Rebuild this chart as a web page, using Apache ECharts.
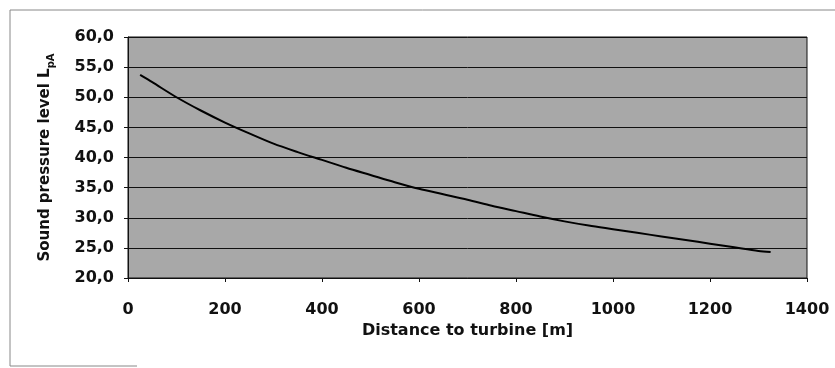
<!DOCTYPE html>
<html>
<head>
<meta charset="utf-8">
<script src="https://cdn.jsdelivr.net/npm/echarts@6/dist/echarts.min.js"></script>
<style>
html,body{margin:0;padding:0;background:#fff;}
#chart{width:835px;height:368px;}
</style>
</head>
<body>
<div id="chart"></div>
<script>
// Distance to turbine [m]
const distance = [25, 50, 100, 150, 200, 250, 300, 350, 400, 450, 500, 550, 600, 650, 700, 750, 800, 850, 900, 950, 1000, 1050, 1100, 1150, 1200, 1250, 1300, 1325];
// Sound pressure level LpA
const spl = [53.7, 52.5, 50.0, 47.8, 45.8, 44.0, 42.3, 40.9, 39.6, 38.3, 37.1, 35.9, 34.8, 33.9, 33.0, 32.0, 31.1, 30.2, 29.4, 28.7, 28.1, 27.5, 26.9, 26.3, 25.7, 25.1, 24.5, 24.3];
const xTicks = { min: 0, max: 1400, interval: 200 };
const yTicks = { min: 20, max: 60, interval: 5 };
const xTitle = 'Distance to turbine [m]';
const yTitle = 'Sound pressure level L';
const ySub = 'pA';

const FONT = 'DejaVu Sans';
const chart = echarts.init(document.getElementById('chart'), null, { renderer: 'canvas' });
chart.setOption({
  animation: false,
  backgroundColor: '#ffffff',
  grid: {
    left: 128, right: 28, top: 37, bottom: 90,
    show: true, backgroundColor: '#a8a8a8', borderColor: '#111', borderWidth: 1
  },
  graphic: [
    { type: 'line', shape: { x1: 10, y1: 10, x2: 835, y2: 10 }, style: { stroke: '#888', lineWidth: 1 } },
    { type: 'line', shape: { x1: 10, y1: 10, x2: 10, y2: 366 }, style: { stroke: '#888', lineWidth: 1 } },
    { type: 'line', shape: { x1: 10, y1: 366, x2: 137, y2: 366 }, style: { stroke: '#888', lineWidth: 1 } }
  ],
  xAxis: {
    type: 'value',
    min: xTicks.min, max: xTicks.max, interval: xTicks.interval,
    name: xTitle, nameLocation: 'middle', nameGap: 45,
    nameTextStyle: { fontFamily: FONT, fontWeight: 'bold', fontSize: 16, color: '#111' },
    axisLine: { show: true, lineStyle: { color: '#111', width: 1 } },
    axisTick: { show: true, inside: false, length: 4, lineStyle: { color: '#111' } },
    axisLabel: { margin: 24, fontFamily: FONT, fontWeight: 'bold', fontSize: 16, color: '#111',
      formatter: v => String(v) },
    splitLine: { show: false }
  },
  yAxis: {
    type: 'value',
    min: yTicks.min, max: yTicks.max, interval: yTicks.interval,
    name: '{m|' + yTitle + '}{sub|' + ySub + '}',
    nameLocation: 'middle', nameGap: 72, nameRotate: 90,
    nameTextStyle: {
      fontFamily: FONT, fontWeight: 'bold', fontSize: 15, color: '#111',
      rich: {
        m: { fontFamily: FONT, fontWeight: 'bold', fontSize: 15, color: '#111', lineHeight: 22, verticalAlign: 'middle' },
        sub: { fontFamily: FONT, fontWeight: 'bold', fontSize: 10, color: '#111', lineHeight: 22, verticalAlign: 'bottom' }
      }
    },
    axisLine: { show: true, lineStyle: { color: '#111', width: 1 } },
    axisTick: { show: true, inside: false, length: 4, lineStyle: { color: '#111' } },
    axisLabel: {
      margin: 14, fontFamily: FONT, fontWeight: 'bold', fontSize: 16, color: '#111',
      formatter: v => v.toFixed(1).replace('.', ',')
    },
    splitLine: { show: true, lineStyle: { color: '#111', width: 1 } }
  },
  series: [{
    type: 'line',
    data: distance.map((d, i) => [d, spl[i]]),
    smooth: 0.3,
    symbol: 'none',
    lineStyle: { color: '#000', width: 2 }
  }]
});
</script>
</body>
</html>
